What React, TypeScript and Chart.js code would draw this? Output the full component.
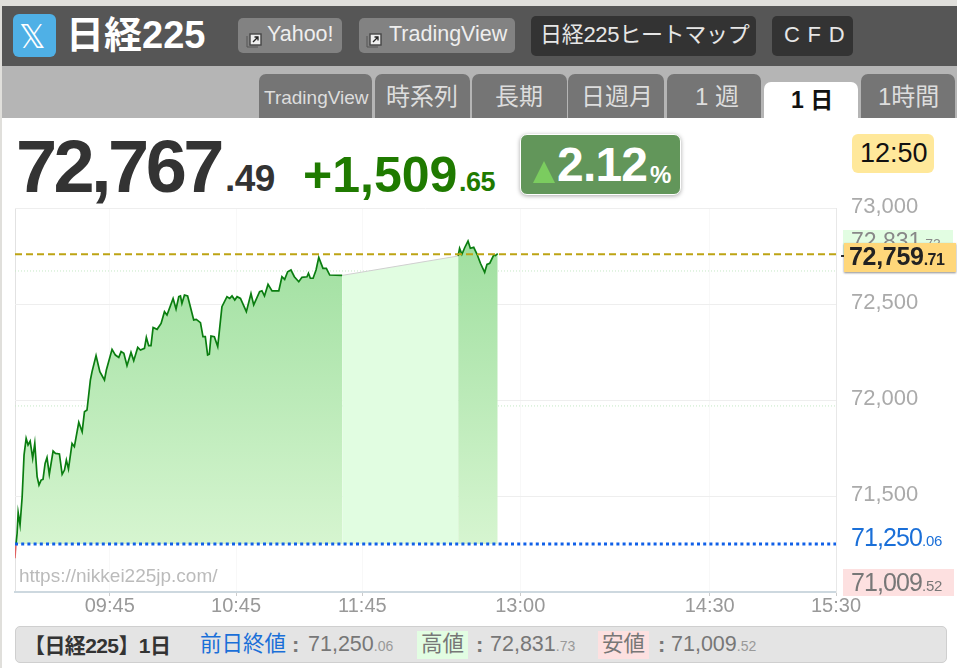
import React, { useEffect, useRef } from "react";
import Chart from "chart.js/auto";

const morningMinutes = [0.5,1,1.5,2.4,3.4,4.3,5.3,6.2,7.2,8.4,9.4,10.5,11.4,12.4,13.3,14.3,15.2,16.3,18.1,19.2,21.1,22.4,23.5,24.4,25.4,27.1,28.2,30.3,31.9,33,34.2,35.8,36.6,38.5,40.3,42.5,43.4,46.1,47.7,49.3,50.4,51.7,53.2,55.1,56.4,58.3,59.6,61.5,62.4,63.5,64.6,65.6,67.5,69.4,71,72.2,75.1,76.5,77.8,78.6,79.3,80.5,82,83.3,84.9,86.1,88.1,89.3,90.4,91.5,92.3,93.1,94.7,96.3,98.3,100.7,102,103.1,104.4,105.5,107.1,109.9,112.1,113.4,116.2,117.3,118.5,120.2,122.1,125.3,126.8,128.1,129.5,131.1,132.7,134.8,136.3,138.7,139.4,140.3,141.6,143,144.3,146.3,147.9,149.5,155.4];
const morningValues = [71250,71306,71413,71349,71496,71714,71800,71766,71786,71696,71774,71601,71557,71583,71587,71670,71700,71613,71734,71722,71719,71613,71635,71687,71641,71774,71757,71884,71835,71939,71948,72104,72148,72231,72148,72104,72156,72264,72234,72222,72252,72243,72179,72248,72205,72274,72260,72269,72326,72283,72283,72378,72368,72399,72460,72443,72529,72474,72538,72542,72503,72547,72542,72486,72417,72420,72403,72330,72330,72234,72238,72333,72330,72278,72486,72538,72529,72542,72521,72538,72529,72460,72555,72495,72564,72569,72542,72602,72568,72568,72642,72628,72668,72677,72642,72616,72639,72642,72660,72634,72634,72677,72743,72686,72686,72651,72649];
const afternoonMinutes = [210.5,211.2,212.3,213.6,215.2,216.3,217.9,219.5,221.1,223.1,224.2,225.5,227.4,228.2,229.3];
const afternoonValues = [72750,72790,72759,72793,72828,72790,72795,72759,72712,72665,72706,72712,72755,72752,72762];
const lunchMinutes = [155.4, 210.5];
const lunchValues = [72649, 72750];
const openMinutes = [0, 0.5];
const openValues = [71176, 71250];

const fullSession = [0, 390];
const prevClose = 71250.06;
const currentValue = 72759.71;
const upperBand = 72672;
const lowerBand = 71969;

const xTickMinutes = [0, 45, 105, 165, 240, 330, 390];
const xTickLabels = ["", "09:45", "10:45", "11:45", "13:00", "14:30", "15:30"];
const hiddenYTicks = [71000];

const tabLabels = ["TradingView", "時系列", "長期", "日週月", "1 週", "1 日", "1時間"];

const SANS = '"Liberation Sans", "Noto Sans CJK JP", sans-serif';

const zip = (xs: number[], ys: number[]) => xs.map((x, i) => ({ x, y: ys[i] }));
const flat = (v: number) => fullSession.map((x) => ({ x, y: v }));

function T(props: { x: number; y: number; s: number; c?: string; b?: boolean; ls?: number; children: React.ReactNode }) {
  const { x, y, s, c, b, ls, children } = props;
  return (
    <span
      style={{
        position: "absolute",
        left: x,
        top: y - s / 2,
        fontSize: s,
        lineHeight: `${s}px`,
        color: c ?? "#777",
        fontWeight: b ? 700 : 400,
        letterSpacing: ls ?? 0,
        whiteSpace: "nowrap",
      }}
    >
      {children}
    </span>
  );
}

function Box(props: { x: number; y: number; x2: number; y2: number; bg: string; r?: string | number; extra?: React.CSSProperties }) {
  const { x, y, x2, y2, bg, r, extra } = props;
  return (
    <div
      style={{
        position: "absolute",
        left: x,
        top: y,
        width: x2 - x,
        height: y2 - y,
        background: bg,
        borderRadius: r ?? 0,
        boxSizing: "border-box",
        ...extra,
      }}
    />
  );
}

function LinkIcon({ x, y }: { x: number; y: number }) {
  return (
    <svg style={{ position: "absolute", left: x, top: y }} width="17" height="17" viewBox="0 0 17 17">
      <path d="M1 4 V15 H12" fill="none" stroke="#555" strokeWidth="1" />
      <rect x="4" y="2" width="11" height="11" fill="#eee" stroke="#444" strokeWidth="1.4" />
      <path d="M7 10 L12 5 M8.5 5 H12 V8.5" fill="none" stroke="#222" strokeWidth="1.3" />
    </svg>
  );
}

const tabBoxes = [
  [259, 372], [375, 470], [472, 567], [568, 664], [667, 761], [764, 858], [861, 955],
];
const tabTextX = [264, 386, 495, 581, 695, 791, 878];

export default function App() {
  const ref = useRef<HTMLCanvasElement>(null);

  useEffect(() => {
    if (!ref.current) return;
    const fade = (ctx: any) => {
      const { chart } = ctx;
      if (!chart.chartArea) return "#b5e6b0";
      const y = chart.scales.y;
      const g = chart.ctx.createLinearGradient(0, y.getPixelForValue(72831), 0, y.getPixelForValue(71250));
      g.addColorStop(0, "#9fdf9f");
      g.addColorStop(1, "#d6f5d0");
      return g;
    };
    const line = { pointRadius: 0, tension: 0, parsing: false as const };
    const chart = new Chart(ref.current, {
      type: "line",
      data: {
        datasets: [
          { ...line, label: "前日終値", data: flat(prevClose), borderColor: "#1060e8", borderWidth: 3, borderDash: [3, 3.2], fill: false },
          { ...line, label: "現在値", data: flat(currentValue), borderColor: "#bda414", borderWidth: 2, borderDash: [7, 4], fill: false },
          { ...line, label: "始値", data: zip(openMinutes, openValues), borderColor: "#e06060", borderWidth: 1.5, fill: false },
          { ...line, label: "前場", data: zip(morningMinutes, morningValues), borderColor: "#0a7d10", borderWidth: 1.7, fill: { value: prevClose }, backgroundColor: fade },
          { ...line, label: "後場", data: zip(afternoonMinutes, afternoonValues), borderColor: "#0a7d10", borderWidth: 1.7, fill: { value: prevClose }, backgroundColor: fade },
          { ...line, label: "昼休み", data: zip(lunchMinutes, lunchValues), borderColor: "#cfcfcf", borderWidth: 1, fill: { value: prevClose }, backgroundColor: "#e1fde1" },
          { ...line, label: "上", data: flat(upperBand), borderColor: "#c4e8c4", borderWidth: 1, borderDash: [1, 2], fill: false },
          { ...line, label: "下", data: flat(lowerBand), borderColor: "#c4e8c4", borderWidth: 1, borderDash: [1, 2], fill: false },
        ],
      },
      options: {
        responsive: false,
        animation: false,
        layout: { padding: { left: 15, top: 28, right: 0, bottom: 0 } },
        plugins: { legend: { display: false }, tooltip: { enabled: false } },
        scales: {
          x: {
            type: "linear",
            min: fullSession[0],
            max: fullSession[1],
            afterFit: (s: any) => { s.height = 33; s.paddingLeft = 0; s.paddingRight = 0; },
            afterBuildTicks: (s: any) => { s.ticks = xTickMinutes.map((value) => ({ value })); },
            border: { color: "#cdd8df", width: 2 },
            grid: {
              color: (c: any) => (c.tick?.value === 0 ? "#e2e2e2" : "#f8f8f8"),
              tickColor: (c: any) => (c.tick?.value === 0 ? "transparent" : "#cccccc"),
              tickLength: 4,
            },
            ticks: {
              autoSkip: false,
              maxRotation: 0,
              minRotation: 0,
              padding: -2,
              color: "#999999",
              font: { family: "Liberation Sans", size: 20 },
              callback: (v: any) => xTickLabels[xTickMinutes.indexOf(Number(v))] ?? "",
            },
          },
          y: {
            type: "linear",
            position: "right",
            min: 71000,
            max: 73000,
            afterFit: (s: any) => { s.width = 121; s.paddingTop = 0; s.paddingBottom = 0; },
            border: { color: "#e8e8e8", width: 1 },
            grid: { color: "#eeeeee", drawTicks: false, tickLength: 0 },
            ticks: {
              stepSize: 500,
              padding: 15,
              labelOffset: -1.5,
              color: "#aaaaaa",
              font: { family: "Liberation Sans", size: 22 },
              callback: (v: any) => (hiddenYTicks.includes(Number(v)) ? "" : Number(v).toLocaleString("en-US")),
            },
          },
        },
      },
    } as any);
    return () => chart.destroy();
  }, []);

  return (
    <div style={{ position: "fixed", left: 0, top: 0, width: 957, height: 668, overflow: "hidden", background: "#e0dfdb", fontFamily: SANS }}>
      <Box x={2} y={6} x2={957} y2={66} bg="#565656" />
      <Box x={2} y={66} x2={957} y2={118} bg="#b5b5b5" />
      <Box x={2} y={118} x2={957} y2={668} bg="#ffffff" />

      <Box x={13} y={14} x2={56} y2={57} bg="#4fb0e6" r={6} />
      <T x={19} y={36} s={33} c="#ffffff">𝕏</T>
      <T x={66} y={35} s={38} c="#ffffff" b>日経225</T>

      <Box x={238} y={18} x2={342} y2={53} bg="#828282" r={5} />
      <LinkIcon x={246} y={32} />
      <T x={267} y={35} s={21.5} c="#eeeeee">Yahoo!</T>
      <Box x={359} y={18} x2={515} y2={53} bg="#828282" r={5} />
      <LinkIcon x={366} y={32} />
      <T x={389} y={35} s={21.5} c="#eeeeee">TradingView</T>
      <Box x={531} y={16} x2={756} y2={56} bg="#333333" r={5} />
      <T x={540} y={35} s={22} c="#e6e6e6" ls={-0.3}>日経225ヒートマップ</T>
      <Box x={772} y={16} x2={853} y2={56} bg="#333333" r={5} />
      <T x={784} y={35} s={22} c="#e6e6e6" ls={0.8}>C F D</T>

      {tabLabels.map((t, i) => {
        const active = i === 5;
        return (
          <React.Fragment key={t}>
            <Box x={tabBoxes[i][0]} y={active ? 82 : 74} x2={tabBoxes[i][1]} y2={118} bg={active ? "#ffffff" : "#757575"} r="7px 7px 0 0" />
            <T x={tabTextX[i]} y={active ? 100 : 97} s={i === 0 ? 19 : active ? 23 : 24} c={active ? "#111111" : "#dddddd"} b={active}>{t}</T>
          </React.Fragment>
        );
      })}

      <T x={16} y={167} s={74} c="#333333" b ls={-3.6}>72,767</T>
      <T x={225} y={178} s={37} c="#333333" b ls={-0.5}>.49</T>
      <T x={303} y={175} s={50} c="#1f7a00" b>+1,509</T>
      <T x={459} y={182} s={27} c="#1f7a00" b ls={-0.5}>.65</T>

      <Box x={520} y={134} x2={681} y2={195} bg="#62965a" r={7} extra={{ border: "1px solid #fff", boxShadow: "0 1px 4px rgba(0,0,0,0.35)" }} />
      <svg style={{ position: "absolute", left: 533, top: 161 }} width="22" height="22" viewBox="0 0 22 22"><path d="M11 0 L22 22 H0 Z" fill="#7bcc5f" /></svg>
      <T x={557} y={165} s={48} c="#ffffff" b ls={-0.8}>2.12</T>
      <T x={650} y={175} s={24} c="#ffffff" b>%</T>

      <Box x={852} y={134} x2={934} y2={173} bg="#ffe89a" r={6} />
      <T x={860} y={153} s={27} c="#111111">12:50</T>

      <canvas ref={ref} width={957} height={445} style={{ position: "absolute", left: 0, top: 180, width: 957, height: 445 }} />

      <T x={19} y={575} s={19} c="#bbbbbb">https://nikkei225jp.com/</T>

      <Box x={843} y={230} x2={953} y2={256} bg="#e2fde2" />
      <T x={851} y={241} s={23} c="#888888">72,831<span style={{ fontSize: 14 }}>.73</span></T>
      <Box x={841} y={255} x2={846} y2={257} bg="#333333" />
      <Box x={844} y={243} x2={956} y2={272} bg="#ffd77a" extra={{ boxShadow: "0 1px 2px rgba(0,0,0,0.45)" }} />
      <T x={849} y={256} s={25} c="#222222" b ls={-0.3}>72,759<span style={{ fontSize: 16, fontWeight: 700, letterSpacing: -0.5 }}>.71</span></T>

      <T x={851} y={537} s={25} c="#1a6fd8" ls={-0.9}>71,250<span style={{ fontSize: 15, letterSpacing: -0.3 }}>.06</span></T>
      <Box x={843} y={569} x2={954} y2={596} bg="#fde0e0" />
      <T x={851} y={582} s={25} c="#777777" ls={-0.9}>71,009<span style={{ fontSize: 15, letterSpacing: -0.3 }}>.52</span></T>

      <Box x={15} y={626} x2={947} y2={663} bg="#e4e4e4" r={5} extra={{ border: "1px solid #cfcfcf" }} />
      <T x={24} y={645} s={21} c="#333333" b ls={-0.6}>【日経225】1日</T>
      <T x={200} y={645} s={21.5} c="#1a6fd8">前日終値</T>
      <T x={292} y={645} s={22} c="#777777" b>:</T>
      <T x={308} y={645} s={21.5} c="#777777">71,250<span style={{ fontSize: 14, color: "#999" }}>.06</span></T>
      <Box x={417} y={631} x2={468} y2={659} bg="#e2fde2" />
      <T x={421} y={645} s={21.5} c="#777777">高値</T>
      <T x={476} y={645} s={22} c="#777777" b>:</T>
      <T x={490} y={645} s={21.5} c="#777777">72,831<span style={{ fontSize: 14, color: "#999" }}>.73</span></T>
      <Box x={598} y={631} x2={649} y2={659} bg="#fde0e0" />
      <T x={602} y={645} s={21.5} c="#777777">安値</T>
      <T x={658} y={645} s={22} c="#777777" b>:</T>
      <T x={671} y={645} s={21.5} c="#777777">71,009<span style={{ fontSize: 14, color: "#999" }}>.52</span></T>
    </div>
  );
}
